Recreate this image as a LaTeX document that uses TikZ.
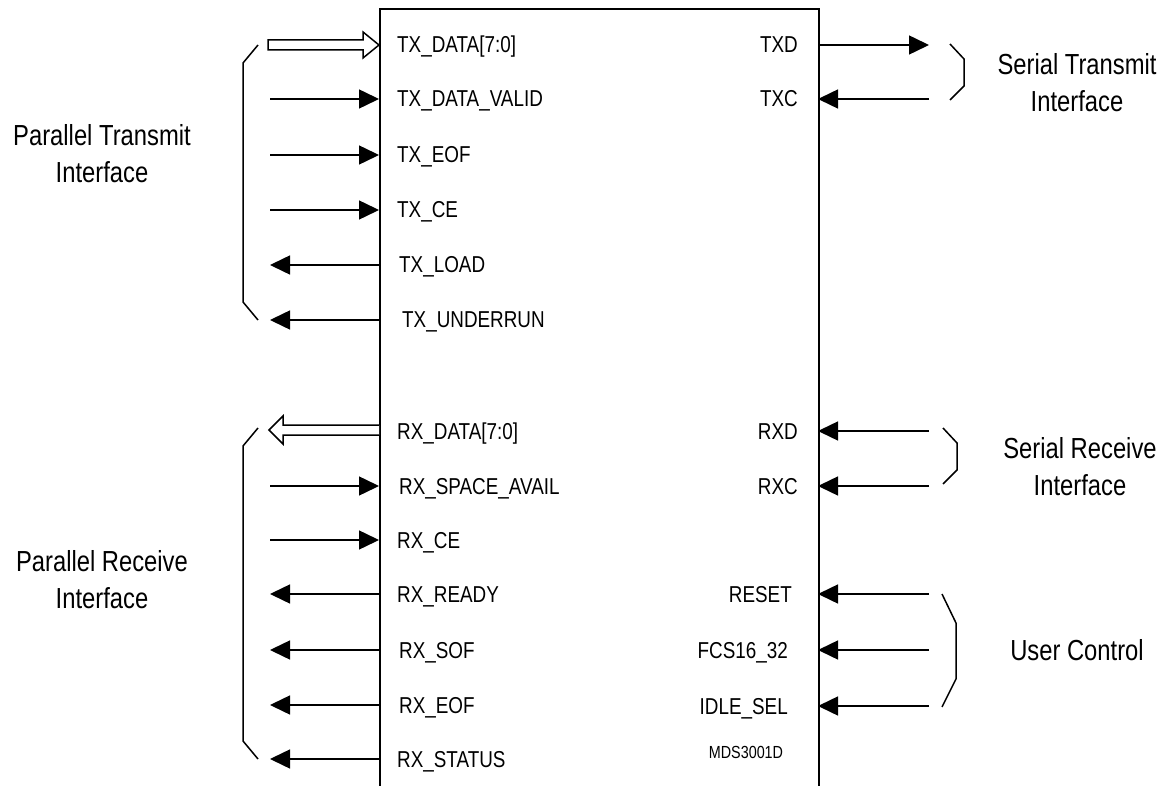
\documentclass[tikz,border=0pt]{standalone}
\usepackage{fontspec}
\setmainfont{Liberation Sans}[FakeStretch=0.82]
\usetikzlibrary{arrows.meta, positioning}

\begin{document}
\begin{tikzpicture}[x=1pt, y=-1pt, >={Triangle[length=20pt, width=19pt]},
  pin/.style={line width=1.5pt},
  sig/.style={inner sep=0pt, font=\fontsize{23}{27}\selectfont},
  grp/.style={inner sep=0pt, align=center, font=\fontsize{29}{37}\selectfont},
  brk/.style={line width=1.5pt, line join=miter},
  bus/.style={line width=1.5pt, fill=white, line join=miter}]
  \useasboundingbox (0,0) rectangle (1168,786);
  \node[draw, line width=1.8pt, minimum width=439pt, minimum height=820pt, anchor=north west] (chip) at (379,8) {};

  % left side pins
  \foreach \n/\x/\y/\t in {txdata/397/45/{TX\_DATA[7:0]}, txdv/397/99/{TX\_DATA\_VALID}, txeof/397/155/{TX\_EOF},
      txce/397/210/{TX\_CE}, txload/399/265/{TX\_LOAD}, txur/402/320/{TX\_UNDERRUN},
      rxdata/397/431/{RX\_DATA[7:0]}, rxsa/399/486/{RX\_SPACE\_AVAIL}, rxce/397/540/{RX\_CE},
      rxrdy/397/594/{RX\_READY}, rxsof/399/650/{RX\_SOF}, rxeof/399/705/{RX\_EOF}, rxst/397/759/{RX\_STATUS}} {
    \coordinate (\n-pin) at (379,\y);
    \coordinate (\n-end) at (270,\y);
    \node[sig, anchor=base west] (\n) at (\x,\y+8) {\t};
  }
  \foreach \n in {txdv, txeof, txce, rxsa, rxce}
    \draw[pin, ->] (\n-end) -- (\n-pin);
  \foreach \n in {txload, txur, rxrdy, rxsof, rxeof, rxst}
    \draw[pin, ->] (\n-pin) -- (\n-end);

  % bus arrows
  \draw[bus] (268,40) -- (363,40) -- (363,32) -- (379,45) -- (363,58) -- (363,50) -- (268,50) -- cycle;
  \draw[bus] (379,425) -- (283,425) -- (283,416) -- (269,430) -- (283,444) -- (283,435) -- (379,435);

  % right side pins
  \foreach \n/\x/\y/\t in {txd/798/45/TXD, txc/798/99/TXC, rxd/798/431/RXD, rxc/798/486/RXC,
      rst/792/594/RESET, fcs/788/650/{FCS16\_32}, idle/788/706/{IDLE\_SEL}} {
    \coordinate (\n-pin) at (818,\y);
    \coordinate (\n-end) at (929,\y);
    \node[sig, anchor=base east] (\n) at (\x,\y+8) {\t};
  }
  \draw[pin, ->] (txd-pin) -- (txd-end);
  \foreach \n in {txc, rxd, rxc, rst, fcs, idle}
    \draw[pin, ->] (\n-end) -- (\n-pin);

  \node[inner sep=0pt, font=\fontsize{17.5}{20}\selectfont] (part) at (746,752) {MDS3001D};

  % brackets
  \draw[brk] (258,45) -- (243,63) -- (243,302) -- (258,320);
  \draw[brk] (258,428) -- (243,446) -- (243,741) -- (258,759);
  \draw[brk] (950,44) -- (964,59) -- (964,86) -- (950,100);
  \draw[brk] (943,428) -- (957,443) -- (957,470) -- (943,484);
  \draw[brk] (942,594) -- (956,623) -- (956,679) -- (942,707);

  % group labels
  \node[grp] (ptx) at (102,154) {Parallel Transmit\\Interface};
  \node[grp] (prx) at (102,580) {Parallel Receive\\Interface};
  \node[grp] (stx) at (1077,83) {Serial Transmit\\Interface};
  \node[grp] (srx) at (1080,467) {Serial Receive\\Interface};
  \node[grp] (uc) at (1077,650) {User Control};
\end{tikzpicture}
\end{document}
